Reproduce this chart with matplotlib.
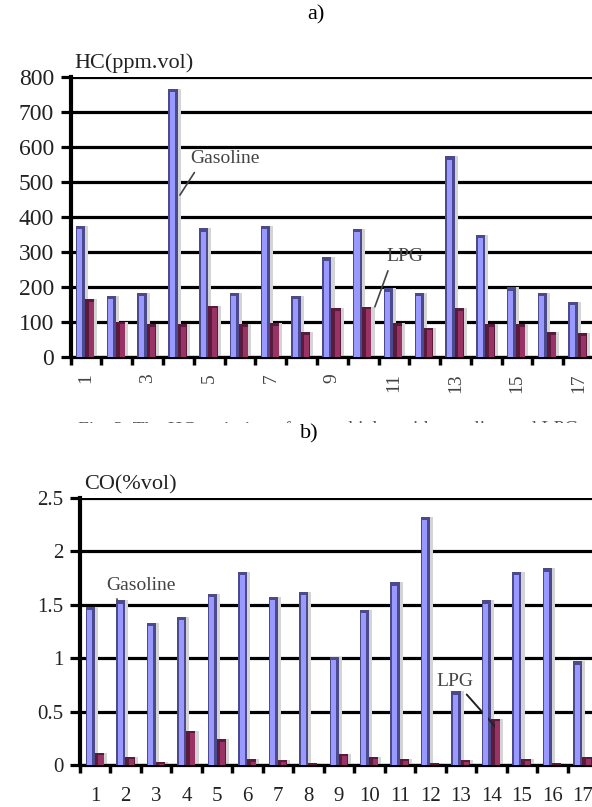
import matplotlib
matplotlib.use("Agg")
import matplotlib.pyplot as plt
import numpy as np
from matplotlib.patches import Rectangle

plt.rcParams["font.family"] = ["Liberation Serif", "DejaVu Serif"]

# vehicle number 1..17
vehicles = list(range(1, 18))

# HC emission, ppm vol
hc_gasoline = [374, 174, 182, 765, 367, 182, 374, 174, 284, 365, 195, 182, 573, 348, 198, 182, 157]
hc_lpg = [164, 100, 92, 92, 146, 92, 97, 71, 138, 143, 97, 83, 138, 92, 92, 71, 67]

# CO emission, % vol
co_gasoline = [1.48, 1.54, 1.33, 1.39, 1.60, 1.81, 1.57, 1.62, 1.01, 1.45, 1.71, 2.32, 0.69, 1.54, 1.81, 1.84, 0.97]
co_lpg = [0.115, 0.078, 0.03, 0.32, 0.24, 0.053, 0.047, 0.02, 0.10, 0.078, 0.06, 0.02, 0.047, 0.43, 0.06, 0.02, 0.078]

hc_ticks = [0, 100, 200, 300, 400, 500, 600, 700, 800]
co_ticks = [0, 0.5, 1, 1.5, 2, 2.5]
co_tick_labels = ["0", "0.5", "1", "1.5", "2", "2.5"]

GAS_LIGHT, GAS_DARK = "#9999ff", "#4a4a8c"
LPG_LIGHT, LPG_DARK = "#993366", "#5a1a3c"
SHADOW = "#d4d4d4"
W = 0.3


def draw_series(ax, x, vals, light, dark, cap, stripe_shift):
    vals = np.asarray(vals, dtype=float)
    ax.bar(x + 0.1, vals, W, color=SHADOW, zorder=2)
    ax.bar(x, vals, W, color=dark, zorder=3)
    ax.bar(x + stripe_shift, vals - cap, W * 0.55, color=light, zorder=4)


def style_axes(ax, yticks, ylim, ylabels, yfs):
    n = len(vehicles)
    ax.set_xlim(-0.5, n - 0.5)
    ax.set_ylim(*ylim)
    ax.set_yticks(yticks)
    ax.set_yticklabels(ylabels, fontsize=yfs, color="#222222")
    ax.yaxis.grid(True, color="black", lw=2.3)
    ax.set_axisbelow(True)
    for s in ["top", "right"]:
        ax.spines[s].set_visible(False)
    ax.spines["left"].set_linewidth(3)
    ax.spines["bottom"].set_linewidth(2.3)
    ax.tick_params(axis="y", length=7, width=2.3, pad=5)
    # category boundaries carry the tick marks
    ax.set_xticks(np.arange(-0.5, n, 1.0))
    ax.set_xticklabels([])
    ax.tick_params(axis="x", which="major", length=6, width=2.5)


fig = plt.figure(figsize=(5.92, 8.07), dpi=100)
x = np.arange(len(vehicles))

# ---- a) HC
ax1 = fig.add_axes([0.1194, 0.558, 0.884, 0.347])
style_axes(ax1, hc_ticks, (0, 800), [str(t) for t in hc_ticks], 17)
draw_series(ax1, x - 0.18, hc_gasoline, GAS_LIGHT, GAS_DARK, 10, -0.02)
draw_series(ax1, x + 0.12, hc_lpg, LPG_LIGHT, LPG_DARK, 8, 0.05)
ax1.set_xticks(x[::2], minor=True)
ax1.set_xticklabels([str(v) for v in vehicles[::2]], minor=True,
                    rotation=90, fontsize=14, color="#444444")
ax1.tick_params(axis="x", which="minor", length=0, pad=12)
ax1.annotate("Gasoline", xy=(3.0, 455), xytext=(3.4, 565), fontsize=14, color="#444444",
             ha="left", va="center",
             arrowprops=dict(arrowstyle="-", color="#444444", lw=1.2, relpos=(0.1, 0)))
ax1.annotate("LPG", xy=(9.35, 135), xytext=(9.75, 285), fontsize=14, color="#444444",
             ha="left", va="center",
             arrowprops=dict(arrowstyle="-", color="#444444", lw=1.2, relpos=(0.1, 0)))
fig.text(74 / 592, 1 - 63 / 807, "HC(ppm.vol)", fontsize=16, color="#222222", va="center")
fig.text(316 / 592, 1 - 15 / 807, "a)", fontsize=16, ha="center", va="center")

# caption line below panel a; only the tops of its letters show
fig.text(78 / 592, 1 - 430 / 807, "Fig. 3  The HC emission of",
         fontsize=14, color="#555555", va="center", zorder=1)
fig.text(330 / 592, 1 - 430 / 807, "vehicles with gasoline and LPG",
         fontsize=14, color="#555555", va="center", zorder=1)
fig.patches.append(Rectangle((0, 1 - 445 / 807), 1, 22 / 807, transform=fig.transFigure,
                             facecolor="white", edgecolor="none", zorder=5))
fig.patches.append(Rectangle((0, 1 - 418 / 807), 1, 14 / 807, transform=fig.transFigure,
                             facecolor="white", edgecolor="none", zorder=5))

# ---- b) CO
ax2 = fig.add_axes([0.1351, 0.052, 0.875, 0.331])
style_axes(ax2, co_ticks, (0, 2.5), co_tick_labels, 15)
draw_series(ax2, x - 0.16, co_gasoline, GAS_LIGHT, GAS_DARK, 0.03, -0.02)
draw_series(ax2, x + 0.14, co_lpg, LPG_LIGHT, LPG_DARK, 0.02, 0.05)
ax2.set_xticks(x, minor=True)
ax2.set_xticklabels([str(v) for v in vehicles], minor=True, fontsize=15, color="#222222")
ax2.tick_params(axis="x", which="minor", length=0, pad=16)
ax2.annotate("Gasoline", xy=(0.78, 1.53), xytext=(0.35, 1.68), fontsize=14, color="#444444",
             ha="left", va="center",
             arrowprops=dict(arrowstyle="-", color="#444444", lw=1.2, relpos=(0.1, 0)))
ax2.annotate("LPG", xy=(13.25, 0.32), xytext=(11.2, 0.785), fontsize=14, color="#444444",
             ha="left", va="center",
             arrowprops=dict(arrowstyle="-", color="#222222", lw=1.4, relpos=(0.7, 0)))
fig.text(84 / 592, 1 - 485 / 807, "CO(%vol)", fontsize=16, color="#222222", va="center")
fig.text(309 / 592, 1 - 434 / 807, "b)", fontsize=16, ha="center", va="center", zorder=10)

fig.savefig("out.png", dpi=100)
